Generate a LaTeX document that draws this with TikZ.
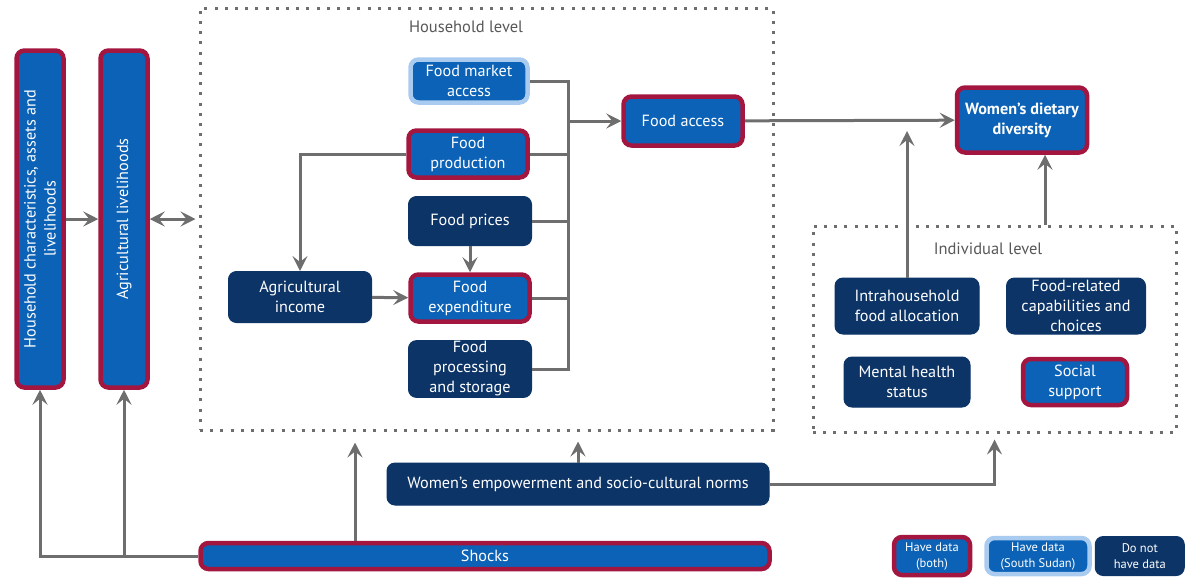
\documentclass[tikz,border=0pt]{standalone}
\usepackage{fontspec}
\setmainfont{PT Sans}
\usetikzlibrary{positioning, arrows.meta}
\definecolor{boxblue}{HTML}{0B62B6}
\definecolor{boxnavy}{HTML}{0C3466}
\definecolor{edgered}{HTML}{A3163F}
\definecolor{edgelight}{HTML}{A9CBF0}
\definecolor{linegray}{HTML}{6E6E6E}

\begin{document}
\begin{tikzpicture}[x=1pt, y=-1pt,
    every node/.style={font=\fontsize{16.2}{20}\selectfont},
    factor/.style={
        rounded corners=8pt,
        draw=#1,
        fill=boxblue,
        line width=4.5pt,
        text=white,
        align=center,
        inner sep=1pt,
    },
    factor/.default=edgered,
    navyfactor/.style={
        rounded corners=8pt,
        draw=boxnavy,
        fill=boxnavy,
        line width=1pt,
        text=white,
        align=center,
        inner sep=1pt,
    },
    level/.style={draw=linegray, line width=3pt, dash pattern=on 3pt off 7.2pt},
    levellabel/.style={text=linegray!80!black, font=\fontsize{16.5}{20}\selectfont},
    keybox/.style={font=\fontsize{12.5}{16}\selectfont},
    link/.style={line width=3pt, draw=linegray},
    arr/.style={-{Stealth[length=15pt, width=15pt, inset=6pt]}, link},
    dblarr/.style={{Stealth[length=15pt, width=15pt, inset=6pt]}-{Stealth[length=15pt, width=15pt, inset=6pt]}, link},
]
\useasboundingbox (0,0) rectangle (1194,579);

% Levels
\node[level, minimum width=573pt, minimum height=422pt] (hhlevel) at (486.5,219) {};
\node[levellabel] (hhlabel) at (466,27) {Household level};
\node[level, minimum width=363pt, minimum height=206pt] (indiv) at (994.5,329) {};
\node[levellabel] (indivlabel) at (988,249) {Individual level};

% Left columns
\node[factor, rotate=90, minimum width=337pt, minimum height=47pt] (hhchar) at (40,219) {Household characteristics, assets and\\livelihoods};
\node[factor, rotate=90, minimum width=337pt, minimum height=47pt] (agri) at (124,219) {Agricultural livelihoods};

% Household level factors
\node[factor=edgelight, minimum width=117pt, minimum height=43pt] (fmarket) at (469,81) {Food market\\access};
\node[factor, minimum width=119pt, minimum height=47pt] (fprod) at (468,154) {Food\\production};
\node[navyfactor, minimum width=123pt, minimum height=49pt] (fprices) at (470,221) {Food prices};
\node[factor, minimum width=119pt, minimum height=47pt] (fexp) at (470,298) {Food\\expenditure};
\node[navyfactor, minimum width=123pt, minimum height=55pt] (fproc) at (470,369) {Food\\processing\\and storage};
\node[navyfactor, minimum width=143pt, minimum height=51pt] (agrinc) at (300,297) {Agricultural\\income};
\node[factor, minimum width=119pt, minimum height=49pt] (faccess) at (683,121) {Food access};

% Outcome
\node[factor, minimum width=130pt, minimum height=65pt, font=\fontsize{16.2}{20}\selectfont\bfseries] (wdd) at (1022,120) {Women’s dietary\\diversity};

% Individual level factors
\node[navyfactor, minimum width=144pt, minimum height=56pt] (intra) at (907,306) {Intrahousehold\\food allocation};
\node[navyfactor, minimum width=139pt, minimum height=56pt] (frel) at (1076,306) {Food-related\\capabilities and\\choices};
\node[navyfactor, minimum width=126pt, minimum height=50pt] (mental) at (907,382) {Mental health\\status};
\node[factor, minimum width=104pt, minimum height=46pt] (social) at (1075,382) {Social\\support};

% Bottom
\node[navyfactor, minimum width=382pt, minimum height=42pt] (empow) at (578,484) {Women’s empowerment and socio-cultural norms};
\node[factor, minimum width=569pt, minimum height=26pt] (shocks) at (485,556) {Shocks};

% Legend
\node[factor, keybox, minimum width=76pt, minimum height=38pt] (keyboth) at (932,556) {Have data\\(both)};
\node[factor=edgelight, keybox, minimum width=103pt, minimum height=36pt, right=12pt of keyboth] (keysudan) {Have data\\(South Sudan)};
\node[navyfactor, keybox, minimum width=89pt, minimum height=39pt, right=3pt of keysudan] (keynone) {Do not\\have data};

% Connectors
\coordinate (bus) at (568,121);
\draw[link] (fmarket.east) -| (bus |- fproc.east) -- (fproc.east);
\foreach \src in {fprod, fprices, fexp}
    \draw[link] (\src.east) -- (bus |- \src.east);
\draw[arr] (bus) -- (faccess);
\draw[arr] (fprod.west) -| (agrinc.north);
\draw[arr] (fprices) -- (fexp);
\draw[arr] (agrinc) -- (fexp);
\draw[arr] (faccess) -- (wdd);

\draw[arr] (hhchar) -- (agri);
\draw[dblarr, shorten >=3pt] (agri) -- (hhlevel.west);

\coordinate (intratip) at (907,131);
\draw[arr] (intra.north) -- (intratip);
\coordinate (wddin) at ([xshift=23pt]wdd.south);
\draw[arr] (wddin |- indiv.north) -- (wddin);

\draw[arr, shorten >=10pt] (empow.north) -- (empow.north |- hhlevel.south);
\draw[arr, shorten >=6pt] (empow.east) -| (indiv.south);

\coordinate (shockup) at ([xshift=-130pt]shocks.north);
\draw[arr, shorten >=11pt] (shockup) -- (shockup |- hhlevel.south);
\draw[arr] (shocks.west) -| (hhchar.west);
\draw[arr] (shocks.west -| agri.west) -- (agri.west);

\end{tikzpicture}
\end{document}
